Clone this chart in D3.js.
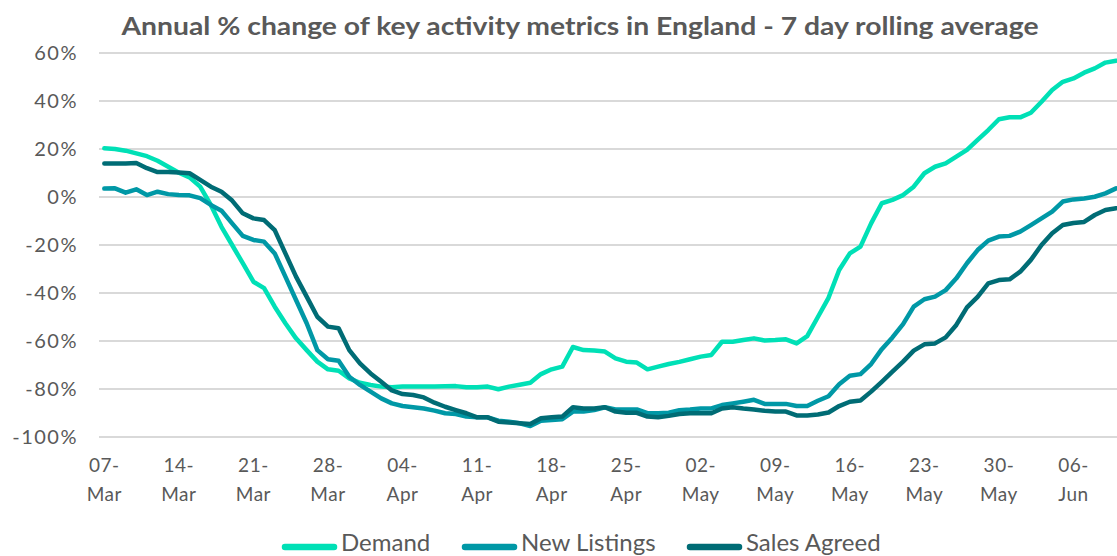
<!DOCTYPE html>
<html>
<head>
<meta charset="utf-8">
<script src="https://cdn.jsdelivr.net/npm/d3@7"></script>
<style>
  body { margin: 0; background: #fff; }
  svg { display: block; }
  text { font-family: Lato, "Open Sans", sans-serif; fill: #595959; }
</style>
</head>
<body>
<div id="chart"></div>
<script>
// series, one value per day starting 07-Mar (7 day rolling average, annual % change)
var startDay = new Date(2020, 2, 7)
var nDays = 96

var demand = [20.3, 20, 19.3, 18.2, 17, 15.1, 12.6, 10.1, 8.2, 4.3,
    -3.3, -12.4, -20, -27.6, -35.3, -38, -45.7, -52.6, -58.9, -63.8,
    -68.6, -71.8, -72.4, -75.6, -77.4, -78.3, -79, -79.3, -79, -79,
    -79, -79, -78.9, -78.8, -79.3, -79.3, -79, -80.1, -79, -78.2,
    -77.4, -73.8, -71.8, -70.7, -62.5, -63.8, -64, -64.4, -67.2, -68.6,
    -69, -71.8, -70.7, -69.6, -68.7, -67.6, -66.5, -65.8, -60.3, -60.3,
    -59.6, -58.9, -59.8, -59.6, -59.3, -61, -58, -50, -42, -30.4,
    -23.5, -20.7, -11, -2.6, -1.2, 0.8, 4.3, 9.9, 12.6, 14,
    16.8, 19.6, 23.8, 27.9, 32.4, 33.2, 33.2, 35.1, 39.7, 44.6,
    48, 49.4, 51.8, 53.6, 56, 56.8]

var newListings = [3.5, 3.6, 1.8, 3.2, 0.8, 2.2, 1.2, 0.8, 0.7, -0.5,
    -3.3, -5.7, -11, -16.2, -17.9, -18.6, -23.5, -33.2, -42.9, -52.6,
    -63.8, -67.6, -68.2, -74.9, -78.3, -81.1, -83.9, -86, -87.1, -87.6,
    -88.1, -89, -90.1, -90.4, -91.5, -91.8, -91.8, -93.2, -93.6, -94.3,
    -95.4, -93.2, -92.9, -92.6, -89.4, -89.4, -88.8, -87.6, -88.5, -88.5,
    -88.5, -90.1, -90.1, -89.9, -88.8, -88.5, -88.1, -88.1, -86.7, -86,
    -85.3, -84.5, -86.2, -86.2, -86.2, -87.1, -87.1, -84.9, -83, -78,
    -74.5, -73.8, -69.6, -63.4, -58.5, -53, -45.7, -42.6, -41.5, -38.8,
    -33.9, -27.6, -22.1, -18.2, -16.5, -16.2, -14.4, -11.7, -8.9, -6.1,
    -1.9, -1, -0.6, 0.1, 1.5, 3.6]

var salesAgreed = [14, 14, 14, 14.2, 12, 10.4, 10.4, 10.2, 9.9, 7.1,
    4.3, 2.2, -1.5, -6.8, -8.9, -9.6, -13.8, -23.5, -33.2, -41.5,
    -49.9, -54, -54.7, -63.8, -69.3, -73.5, -77, -80.6, -82.1, -82.5,
    -83.5, -85.7, -87.4, -88.8, -90.1, -91.8, -91.8, -93.6, -94, -94.3,
    -94.6, -92.2, -91.8, -91.5, -87.6, -88.1, -88.1, -87.6, -89.4, -89.9,
    -89.9, -91.5, -91.8, -91.2, -90.4, -90.1, -90.1, -90.1, -88.1, -87.6,
    -88.1, -88.5, -89.1, -89.4, -89.4, -91, -91, -90.6, -89.8, -87.1,
    -85.3, -84.8, -81.1, -77, -72.8, -68.6, -64, -61.4, -61, -58.5,
    -53.3, -46, -41.6, -36, -34.6, -34.3, -31.1, -26.2, -20, -15.1,
    -11.7, -10.8, -10.4, -7.5, -5.4, -4.7]

var seriesNames = ["Demand", "New Listings", "Sales Agreed"]
var seriesColors = ["#00e0b6", "#0098a6", "#006c75"]
var yTicks = [60, 40, 20, 0, -20, -40, -60, -80, -100]

var width = 1117, height = 556
var left = 99, dayWidth = 10.65

var svg = d3.select("#chart")
    .append("svg")
    .attr("width", width)
    .attr("height", height)

var days = d3.range(nDays).map(function (i) { return d3.timeDay.offset(startDay, i) })

var x = d3.scaleBand()
    .domain(days.map(function (d) { return +d }))
    .range([left, left + nDays * dayWidth])
    .padding(0)

var y = d3.scaleLinear()
    .domain([-100, 60])
    .range([437, 53])

function xc(i) { return x(+days[i]) + x.bandwidth() / 2 }

// title
svg.append("text")
    .attr("x", 580)
    .attr("y", 35)
    .attr("text-anchor", "middle")
    .attr("font-size", "25px")
    .attr("font-weight", 700)
    .attr("textLength", 917)
    .attr("lengthAdjust", "spacingAndGlyphs")
    .text("Annual % change of key activity metrics in England - 7 day rolling average")

// gridlines
svg.selectAll("line.grid")
    .data(yTicks)
    .enter()
    .append("line")
    .attr("class", "grid")
    .attr("x1", left)
    .attr("x2", width)
    .attr("y1", function (d) { return y(d) })
    .attr("y2", function (d) { return y(d) })
    .attr("stroke", "#d9d9d9")
    .attr("stroke-width", 2)

// y labels
svg.selectAll("text.ylab")
    .data(yTicks)
    .enter()
    .append("text")
    .attr("class", "ylab")
    .attr("x", 78)
    .attr("y", function (d) { return y(d) + 7 })
    .attr("text-anchor", "end")
    .attr("font-size", "20px")
    .attr("letter-spacing", "1.5px")
    .text(function (d) { return d + "%" })

// x labels every 7 days
var fmtDay = d3.timeFormat("%d-")
var fmtMon = d3.timeFormat("%b")
var tickIdx = d3.range(0, nDays, 7)

var xlab = svg.selectAll("text.xlab")
    .data(tickIdx)
    .enter()
    .append("text")
    .attr("class", "xlab")
    .attr("text-anchor", "middle")
    .attr("font-size", "19px")
    .attr("letter-spacing", "0.5px")

xlab.append("tspan")
    .attr("x", function (i) { return xc(i) })
    .attr("y", 472)
    .text(function (i) { return fmtDay(days[i]) })

xlab.append("tspan")
    .attr("x", function (i) { return xc(i) })
    .attr("y", 501)
    .text(function (i) { return fmtMon(days[i]) })

// lines
var allSeries = [demand, newListings, salesAgreed]

var line = d3.line()
    .x(function (d, i) { return xc(i) })
    .y(function (d) { return y(d) })

svg.selectAll("path.series")
    .data(allSeries)
    .enter()
    .append("path")
    .attr("class", "series")
    .attr("fill", "none")
    .attr("stroke", function (d, i) { return seriesColors[i] })
    .attr("stroke-width", 4.5)
    .attr("stroke-linejoin", "round")
    .attr("stroke-linecap", "round")
    .attr("d", line)

// legend
var legendX = [282, 462, 687]

var legend = svg.selectAll("g.legend")
    .data(seriesNames)
    .enter()
    .append("g")
    .attr("class", "legend")
    .attr("transform", function (d, i) { return "translate(" + legendX[i] + ",547)" })

legend.append("line")
    .attr("x1", 3)
    .attr("x2", 52)
    .attr("stroke", function (d, i) { return seriesColors[i] })
    .attr("stroke-width", 6.5)
    .attr("stroke-linecap", "round")

legend.append("text")
    .attr("x", 59)
    .attr("y", 4)
    .attr("font-size", "24px")
    .text(function (d) { return d })
</script>
</body>
</html>
